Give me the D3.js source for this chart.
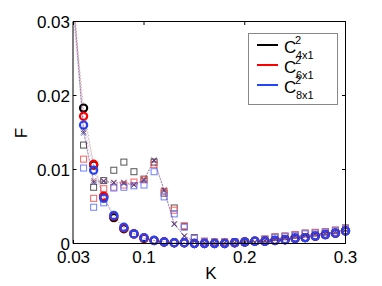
<!DOCTYPE html>
<html>
<head>
<meta charset="utf-8">
<script src="https://cdn.jsdelivr.net/npm/d3@7"></script>
<style>
    body { margin: 0; background: #fff; }
    text { font-family: "Liberation Sans", Arial, Helvetica, sans-serif; }
</style>
</head>
<body>
<div id="chart"></div>
<script>
/*
F versus K for three cluster sizes
 */

// K values (0.03 .. 0.30)
var kValues = [0.03, 0.04, 0.05, 0.06, 0.07, 0.08, 0.09, 0.10, 0.11, 0.12, 0.13, 0.14, 0.15, 0.16,
    0.17, 0.18, 0.19, 0.20, 0.21, 0.22, 0.23, 0.24, 0.25, 0.26, 0.27, 0.28, 0.29, 0.30];

// circles
var circleBlack = [0.032, 0.0183, 0.0106, 0.0063, 0.0035, 0.0020, 0.0013, 0.0007, 0.0004, 0.0002, 0.0001, 0.0001, 0.0000, 0.0000,
    0.0000, 0.0000, 0.0001, 0.0002, 0.0003, 0.0003, 0.0004, 0.0005, 0.0007, 0.0008, 0.0010, 0.0012, 0.0014, 0.0017];
var circleRed = [0.031, 0.0172, 0.0107, 0.0064, 0.0037, 0.0021, 0.0013, 0.0007, 0.0004, 0.0002, 0.0001, 0.0001, 0.0000, 0.0000,
    0.0000, 0.0000, 0.0001, 0.0002, 0.0003, 0.0003, 0.0004, 0.0005, 0.0007, 0.0008, 0.0010, 0.0012, 0.0014, 0.0017];
var circleBlue = [0.0305, 0.0160, 0.0099, 0.0061, 0.0038, 0.0022, 0.0013, 0.0008, 0.0004, 0.0002, 0.0001, 0.0001, 0.0000, 0.0000,
    0.0000, 0.0000, 0.0001, 0.0002, 0.0003, 0.0003, 0.0004, 0.0005, 0.0007, 0.0008, 0.0010, 0.0012, 0.0014, 0.0017];

// squares
var squareBlack = [0.034, 0.0133, 0.0076, 0.0085, 0.0099, 0.0110, 0.0097, 0.0087, 0.0110, 0.0068, 0.0048, 0.0023, 0.0008, 0.0003,
    0.0002, 0.0002, 0.0002, 0.0002, 0.0003, 0.0006, 0.0009, 0.0010, 0.0012, 0.0014, 0.0015, 0.0016, 0.0018, 0.0021];
var squareRed = [0.033, 0.0114, 0.0061, 0.0074, 0.0076, 0.0079, 0.0083, 0.0086, 0.0107, 0.0070, 0.0045, 0.0024, 0.0007, 0.0003,
    0.0002, 0.0002, 0.0002, 0.0002, 0.0003, 0.0006, 0.0009, 0.0010, 0.0012, 0.0014, 0.0015, 0.0016, 0.0018, 0.0021];
var squareBlue = [0.032, 0.0102, 0.0049, 0.0055, 0.0075, 0.0076, 0.0078, 0.0079, 0.0097, 0.0063, 0.0040, 0.0022, 0.0007, 0.0002,
    0.0001, 0.0001, 0.0001, 0.0002, 0.0003, 0.0005, 0.0008, 0.0009, 0.0011, 0.0013, 0.0014, 0.0015, 0.0017, 0.0020];

// crosses
var crossBlack = [0.033, 0.0151, 0.0083, 0.0084, 0.0082, 0.0082, 0.0079, 0.0086, 0.0113, 0.0072, 0.0026, 0.0010, 0.0003, 0.0001,
    0.0001, 0.0001, 0.0001, 0.0002, 0.0002, 0.0004, 0.0006, 0.0008, 0.0010, 0.0011, 0.0013, 0.0014, 0.0016, 0.0019];
var crossRed = [0.034, 0.0154, 0.0085, 0.0085, 0.0083, 0.0083, 0.0080, 0.0087, 0.0112, 0.0073, 0.0027, 0.0010, 0.0003, 0.0001,
    0.0001, 0.0001, 0.0001, 0.0002, 0.0002, 0.0004, 0.0006, 0.0008, 0.0010, 0.0011, 0.0013, 0.0014, 0.0016, 0.0019];
var crossBlue = [0.032, 0.0149, 0.0082, 0.0084, 0.0082, 0.0081, 0.0079, 0.0085, 0.0112, 0.0071, 0.0026, 0.0010, 0.0003, 0.0001,
    0.0001, 0.0001, 0.0001, 0.0002, 0.0002, 0.0004, 0.0006, 0.0008, 0.0010, 0.0011, 0.0013, 0.0014, 0.0016, 0.0019];

// ticks
var xTicks = [0.03, 0.1, 0.2, 0.3];
var xTickLabels = ["0.03", "0.1", "0.2", "0.3"];
var yTicks = [0, 0.01, 0.02, 0.03];
var yTickLabels = ["0", "0.01", "0.02", "0.03"];

var legendNames = ["4x1", "6x1", "8x1"];
var colors = ["#000000", "#ff0000", "#2244ff"];

var width = 382;
var height = 286;

var plot = d3.select("#chart")
    .append("svg")
    .attr("width", width)
    .attr("height", height);

//scales
var xScale = d3.scaleLinear().domain([0.03, 0.3]).range([73.5, 345.5]);
var yScale = d3.scaleLinear().domain([0, 0.03]).range([243.5, 21.5]);

plot.append("clipPath")
    .attr("id", "clip")
    .append("rect")
    .attr("x", 73.5).attr("y", 21.5)
    .attr("width", 272).attr("height", 222);

var panel = plot.append("g");
var linePanel = plot.append("g").attr("clip-path", "url(#clip)");

function toPoints(values) {
    return values.map(function (v, i) { return [kValues[i], v]; });
}

function inside(d) {
    return d[1] <= 0.03;
}

var lineSegment = d3.line()
    .x(function (d) { return xScale(d[0]); })
    .y(function (d) { return yScale(d[1]); });

var squares = [squareBlack, squareRed, squareBlue];
var crosses = [crossBlack, crossRed, crossBlue];
var circles = [circleBlack, circleRed, circleBlue];
var squareColors = ["#555555", "#ff6060", "#6f7fff"];
var crossColors = ["#444444", "#c04050", "#4050c0"];

// dotted lines
for (var c = 0; c < 3; c++) {
    linePanel.append("path")
        .datum(toPoints(crosses[c]))
        .attr("d", lineSegment)
        .attr("fill", "none")
        .attr("stroke", colors[c])
        .attr("stroke-opacity", 0.45)
        .attr("stroke-width", 1)
        .attr("stroke-dasharray", "1,2");
    linePanel.append("path")
        .datum(toPoints(circles[c]))
        .attr("d", lineSegment)
        .attr("fill", "none")
        .attr("stroke", colors[c])
        .attr("stroke-opacity", 0.35)
        .attr("stroke-width", 1)
        .attr("stroke-dasharray", "1,2");
}

// squares
for (var s = 0; s < 3; s++) {
    panel.append("g").selectAll("rect")
        .data(toPoints(squares[s]).filter(inside))
        .enter().append("rect")
        .attr("x", function (d) { return xScale(d[0]) - 3; })
        .attr("y", function (d) { return yScale(d[1]) - 3; })
        .attr("width", 6)
        .attr("height", 6)
        .attr("fill", "none")
        .attr("stroke", squareColors[s])
        .attr("stroke-width", 1);
}

// crosses
for (var x = 0; x < 3; x++) {
    panel.append("g").selectAll("path")
        .data(toPoints(crosses[x]).filter(inside))
        .enter().append("path")
        .attr("d", function (d) {
            var cx = xScale(d[0]), cy = yScale(d[1]), r = 2.5;
            return "M" + (cx - r) + "," + (cy - r) + "L" + (cx + r) + "," + (cy + r) +
                "M" + (cx - r) + "," + (cy + r) + "L" + (cx + r) + "," + (cy - r);
        })
        .attr("stroke", crossColors[x])
        .attr("stroke-opacity", 0.8)
        .attr("stroke-width", 1);
}

// circles
for (var o = 0; o < 3; o++) {
    panel.append("g").selectAll("circle")
        .data(toPoints(circles[o]).filter(inside))
        .enter().append("circle")
        .attr("cx", function (d) { return xScale(d[0]); })
        .attr("cy", function (d) { return yScale(d[1]); })
        .attr("r", 3.6)
        .attr("fill", "none")
        .attr("stroke", colors[o])
        .attr("stroke-width", 2.2);
}

// frame
var frame = plot.append("g");
frame.append("line").attr("x1", 73).attr("x2", 73).attr("y1", 21.5).attr("y2", 243.5)
    .attr("stroke", "#000").attr("stroke-width", 1);
frame.append("line").attr("x1", 73).attr("x2", 345.5).attr("y1", 243.5).attr("y2", 243.5)
    .attr("stroke", "#000");
frame.append("line").attr("x1", 73).attr("x2", 345.5).attr("y1", 21.5).attr("y2", 21.5)
    .attr("stroke", "#000");
frame.append("line").attr("x1", 345.5).attr("x2", 345.5).attr("y1", 21.5).attr("y2", 243.5)
    .attr("stroke", "#000");

//ticks (inside, on all four sides)
xTicks.forEach(function (t, i) {
    var px = xScale(t);
    frame.append("line").attr("x1", px).attr("x2", px).attr("y1", 243.5).attr("y2", 240)
        .attr("stroke", "#000");
    frame.append("line").attr("x1", px).attr("x2", px).attr("y1", 21.5).attr("y2", 25)
        .attr("stroke", "#000");
    plot.append("text")
        .attr("x", px)
        .attr("y", 263)
        .attr("text-anchor", "middle")
        .attr("font-size", "17px")
        .text(xTickLabels[i]);
});

yTicks.forEach(function (t, i) {
    var py = yScale(t);
    frame.append("line").attr("x1", 73).attr("x2", 76.5).attr("y1", py).attr("y2", py)
        .attr("stroke", "#000");
    frame.append("line").attr("x1", 345.5).attr("x2", 342).attr("y1", py).attr("y2", py)
        .attr("stroke", "#000");
    plot.append("text")
        .attr("x", 70)
        .attr("y", py)
        .attr("dy", "0.36em")
        .attr("text-anchor", "end")
        .attr("font-size", "17px")
        .text(yTickLabels[i]);
});

// axis labels
plot.append("text")
    .attr("x", 211)
    .attr("y", 279)
    .attr("text-anchor", "middle")
    .attr("font-size", "17px")
    .text("K");

plot.append("text")
    .attr("transform", "translate(27,133) rotate(-90)")
    .attr("text-anchor", "middle")
    .attr("font-size", "17px")
    .text("F");

// legend
var legend = plot.append("g");
legend.append("rect")
    .attr("x", 248.5).attr("y", 33.5)
    .attr("width", 89).attr("height", 71)
    .attr("fill", "#fff")
    .attr("stroke", "#888")
    .attr("stroke-width", 1);

legendNames.forEach(function (name, i) {
    var ly = 45 + i * 20;
    legend.append("line")
        .attr("x1", 257).attr("x2", 278)
        .attr("y1", ly).attr("y2", ly)
        .attr("stroke", colors[i])
        .attr("stroke-width", 2);
    legend.append("text")
        .attr("x", 284).attr("y", ly + 8)
        .attr("font-size", "17px")
        .text("C");
    legend.append("text")
        .attr("x", 295).attr("y", ly - 1)
        .attr("font-size", "11px")
        .text("2");
    legend.append("text")
        .attr("x", 296).attr("y", ly + 14)
        .attr("font-size", "11px")
        .text(name);
});
</script>
</body>
</html>
